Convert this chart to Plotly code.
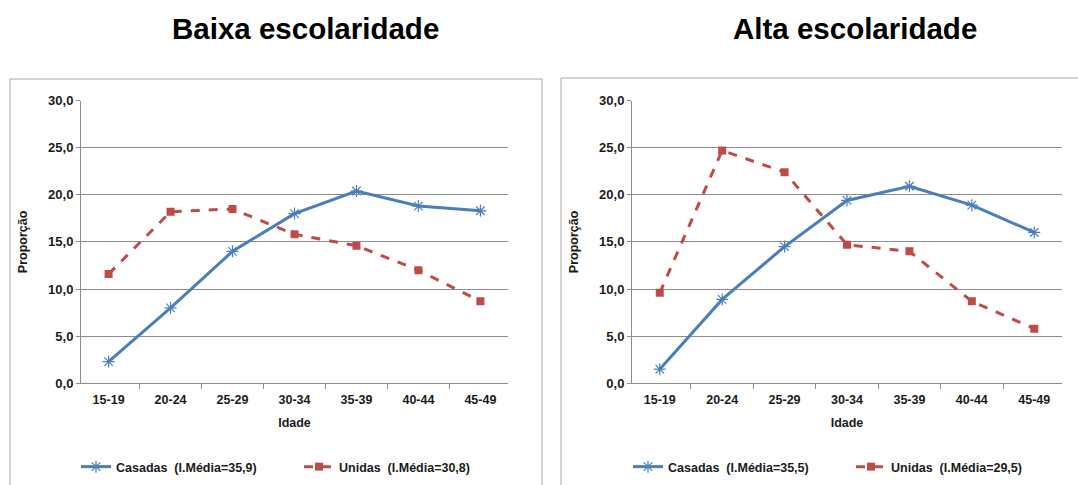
import plotly.graph_objects as go

# Age groups and proportions (%) by education level
idades = ["15-19", "20-24", "25-29", "30-34", "35-39", "40-44", "45-49"]

baixa_casadas = [2.3, 8.0, 14.0, 18.0, 20.4, 18.8, 18.3]
baixa_unidas = [11.6, 18.2, 18.5, 15.8, 14.6, 12.0, 8.7]

alta_casadas = [1.5, 8.9, 14.5, 19.4, 20.9, 18.9, 16.0]
alta_unidas = [9.6, 24.7, 22.4, 14.7, 14.0, 8.7, 5.8]

nomes_baixa = ["Casadas  (I.Média=35,9)", "Unidas  (I.Média=30,8)"]
nomes_alta = ["Casadas  (I.Média=35,5)", "Unidas  (I.Média=29,5)"]
titulos = ["Baixa escolaridade", "Alta escolaridade"]

W, H = 1078, 485
FONT = "Liberation Sans Narrow, Liberation Sans, Arial, sans-serif"
BLUE = "#4A7EBB"
RED = "#BE4B48"
GRID = "#8C8C8C"
TXT = "#1a1a1a"


def px_x(v):
    return v / W


def px_y(v):
    return 1 - v / H


fig = go.Figure()

panels = [
    dict(cas=baixa_casadas, uni=baixa_unidas, nomes=nomes_baixa,
         xa="x", ya="y", leg="legend"),
    dict(cas=alta_casadas, uni=alta_unidas, nomes=nomes_alta,
         xa="x2", ya="y2", leg="legend2"),
]

for p in panels:
    fig.add_trace(go.Scatter(
        x=idades, y=p["cas"], name=f"<b>{p['nomes'][0]}</b>", mode="lines+markers",
        line=dict(color=BLUE, width=3),
        marker=dict(symbol="asterisk-open", size=10, color=BLUE,
                    line=dict(color=BLUE, width=1.2)),
        xaxis=p["xa"], yaxis=p["ya"], legend=p["leg"],
    ))
    fig.add_trace(go.Scatter(
        x=idades, y=p["uni"], name=f"<b>{p['nomes'][1]}</b>", mode="lines+markers",
        line=dict(color=RED, width=3, dash="dash"),
        marker=dict(symbol="square", size=8, color=RED),
        xaxis=p["xa"], yaxis=p["ya"], legend=p["leg"],
    ))

y_dom = [px_y(383.3), px_y(100.5)]

axis_common_x = dict(
    type="category", showgrid=False, showline=True, linecolor=GRID, linewidth=1,
    ticks="outside", tickson="boundaries", ticklen=5, tickcolor=GRID,
    tickfont=dict(family=FONT, size=12.5, color=TXT),
    tickprefix="<b>", ticksuffix="</b>", ticklabelstandoff=5,
    title=dict(text="<b>Idade</b>", font=dict(family=FONT, size=12.5, color=TXT),
               standoff=11),
    fixedrange=True,
)
axis_common_y = dict(
    range=[0, 30], dtick=5, tickformat=".1f", showgrid=True, gridcolor=GRID,
    gridwidth=1, showline=True, linecolor=GRID, linewidth=1, ticks="outside",
    ticklen=4, tickcolor=GRID, zeroline=False,
    tickfont=dict(family=FONT, size=13, color=TXT),
    tickprefix="<b>", ticksuffix="</b>",
    title=dict(text="<b>Proporção</b>", font=dict(family=FONT, size=12.5, color=TXT),
               standoff=17),
    fixedrange=True,
)

fig.update_layout(
    xaxis=dict(domain=[px_x(81), px_x(508)], anchor="y", **axis_common_x),
    yaxis=dict(domain=y_dom, anchor="x", **axis_common_y),
    xaxis2=dict(domain=[px_x(632), px_x(1062)], anchor="y2", **axis_common_x),
    yaxis2=dict(domain=y_dom, anchor="x2", **axis_common_y),
)

legend_style = dict(
    orientation="h", xanchor="left", yanchor="middle", y=px_y(467),
    font=dict(family=FONT, size=12.5, color=TXT),
    bgcolor="rgba(0,0,0,0)", entrywidth=178, entrywidthmode="pixels",
    itemwidth=30, tracegroupgap=0,
)

fig.update_layout(
    width=W, height=H,
    margin=dict(l=0, r=0, t=0, b=0, autoexpand=False),
    paper_bgcolor="white", plot_bgcolor="white",
    separators=",.",
    legend=dict(x=px_x(76), **legend_style),
    legend2=dict(x=px_x(628), **legend_style),
    showlegend=True,
)

# chart area frames
fig.add_shape(type="rect", xref="paper", yref="paper",
              x0=px_x(10), x1=px_x(542), y0=px_y(495), y1=px_y(79),
              line=dict(color="#A6A6A6", width=1), fillcolor="rgba(0,0,0,0)", layer="below")
fig.add_shape(type="rect", xref="paper", yref="paper",
              x0=px_x(561), x1=px_x(1090), y0=px_y(495), y1=px_y(78),
              line=dict(color="#A6A6A6", width=1), fillcolor="rgba(0,0,0,0)", layer="below")

# panel titles
for titulo, cx in zip(titulos, [305, 855]):
    fig.add_annotation(text=f"<b>{titulo}</b>", xref="paper", yref="paper",
                       x=px_x(cx), y=px_y(28), xanchor="center", yanchor="middle",
                       showarrow=False,
                       font=dict(family="Liberation Sans, Arial, sans-serif", size=29.5,
                                 color="black"))

fig.write_html("out.html")
